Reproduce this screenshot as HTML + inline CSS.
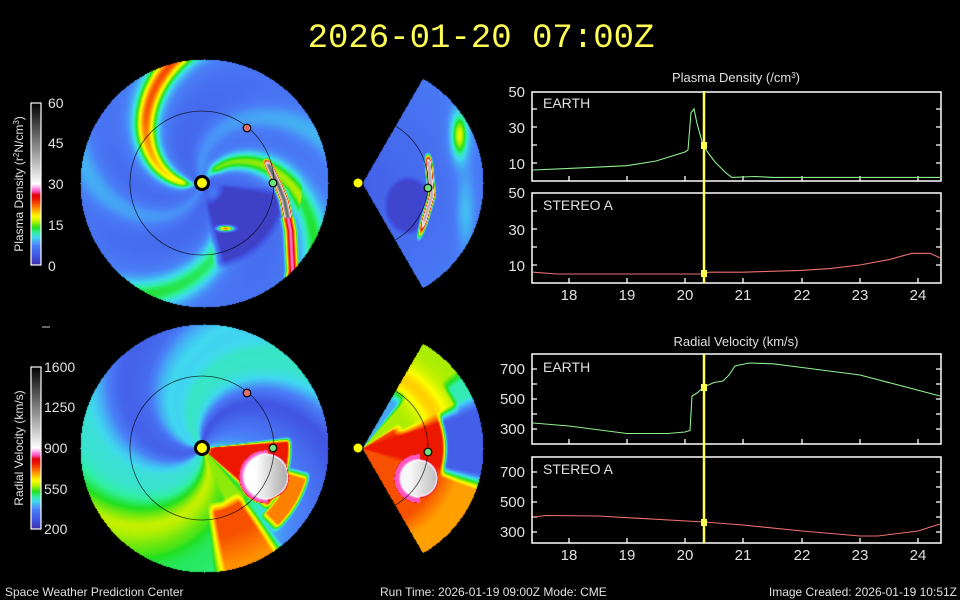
<!DOCTYPE html>
<html><head><meta charset="utf-8"><style>
html,body{margin:0;padding:0;background:#000;width:960px;height:600px;overflow:hidden}
#c{position:absolute;left:0;top:0}
svg{position:absolute;left:0;top:0}
text{font-family:"Liberation Sans",sans-serif;fill:#e0e0e0}
</style></head><body>
<canvas id="c" width="960" height="600"></canvas>
<svg width="960" height="600" viewBox="0 0 960 600">
<defs>
<linearGradient id="cb" x1="0" y1="1" x2="0" y2="0">
<stop offset="0" stop-color="#3c2fa8"/><stop offset="0.05" stop-color="#4050e0"/><stop offset="0.12" stop-color="#4a80f8"/>
<stop offset="0.17" stop-color="#40d8f0"/><stop offset="0.2" stop-color="#30f0a0"/><stop offset="0.23" stop-color="#20e020"/>
<stop offset="0.27" stop-color="#c0f000"/><stop offset="0.3" stop-color="#ffff00"/><stop offset="0.35" stop-color="#ff9000"/>
<stop offset="0.4" stop-color="#f02000"/><stop offset="0.43" stop-color="#e00000"/><stop offset="0.46" stop-color="#ff60d0"/>
<stop offset="0.5" stop-color="#ffffff"/><stop offset="1" stop-color="#000000"/>
</linearGradient>
</defs>
<text x="481" y="47" text-anchor="middle" style="font-family:'Liberation Mono',monospace;font-size:34px;fill:#ffff55">2026-01-20 07:00Z</text>

<rect x="31" y="103" width="10" height="162" fill="url(#cb)" stroke="#fff" stroke-width="1.2"/>
<rect x="31" y="367" width="10" height="162" fill="url(#cb)" stroke="#fff" stroke-width="1.2"/>
<g font-size="14">
<text x="48" y="108">60</text><text x="48" y="148">45</text><text x="48" y="189">30</text><text x="48" y="230">15</text><text x="48" y="271">0</text>
<text x="44" y="372">1600</text><text x="44" y="412">1250</text><text x="44" y="453">900</text><text x="44" y="494">550</text><text x="44" y="534">200</text>
</g>
<text transform="translate(23,184) rotate(-90)" text-anchor="middle" font-size="12">Plasma Density (r<tspan baseline-shift="super" font-size="8">2</tspan>N/cm<tspan baseline-shift="super" font-size="8">3</tspan>)</text>
<text transform="translate(23,448) rotate(-90)" text-anchor="middle" font-size="12">Radial Velocity (km/s)</text>
<line x1="42" y1="327" x2="50" y2="327" stroke="#ccc" stroke-width="1"/>

<g fill="none" stroke="#000" stroke-opacity="0.75" stroke-width="0.8">
<circle cx="202" cy="183" r="72"/><circle cx="202" cy="448" r="72"/>
<path d="M395,125.8 A66,66 0 0 1 395,240.2"/><path d="M395,390.8 A66,66 0 0 1 395,505.2"/>
</g>
<circle cx="202" cy="183" r="6.5" fill="#ff0" stroke="#000" stroke-width="3"/>
<circle cx="202" cy="448" r="6.5" fill="#ff0" stroke="#000" stroke-width="3"/>
<circle cx="358" cy="183" r="5" fill="#ff0" stroke="#000" stroke-width="1"/>
<circle cx="358" cy="448" r="5" fill="#ff0" stroke="#000" stroke-width="1"/>
<g stroke="#000" stroke-width="1.2">
<circle cx="273" cy="183" r="3.8" fill="#70e080"/><circle cx="273" cy="448" r="3.8" fill="#70e080"/>
<circle cx="428" cy="188" r="3.8" fill="#70e080"/><circle cx="428" cy="452" r="3.8" fill="#70e080"/>
<circle cx="247" cy="128" r="3.8" fill="#e07070"/><circle cx="247" cy="393" r="3.8" fill="#e07070"/>
</g>

<text x="736" y="82" text-anchor="middle" font-size="13">Plasma Density (/cm<tspan baseline-shift="super" font-size="8">3</tspan>)</text>
<text x="736" y="346" text-anchor="middle" font-size="13">Radial Velocity (km/s)</text>

<g fill="none" stroke="#fff" stroke-width="1.5">
<rect x="532" y="92" width="409" height="89"/>
<rect x="532" y="193" width="409" height="90"/>
<rect x="532" y="354" width="409" height="90"/>
<rect x="532" y="457" width="409" height="86"/>
</g>
<g stroke="#fff" stroke-width="1.3">
<path d="M532,163h5M532,145h5M532,127h5M532,109h5M941,163h-5M941,145h-5M941,127h-5M941,109h-5"/>
<path d="M532,265h5M532,247h5M532,229h5M532,211h5M941,265h-5M941,247h-5M941,229h-5M941,211h-5"/>
<path d="M532,429h5M532,414h5M532,399h5M532,384h5M532,369h5M941,429h-5M941,414h-5M941,399h-5M941,384h-5M941,369h-5"/>
<path d="M532,532h5M532,517h5M532,502h5M532,487h5M532,472h5M941,532h-5M941,517h-5M941,502h-5M941,487h-5M941,472h-5"/>
<path d="M569,181v-5M627,181v-5M685,181v-5M743,181v-5M802,181v-5M860,181v-5M918,181v-5"/>
<path d="M569,283v-5M627,283v-5M685,283v-5M743,283v-5M802,283v-5M860,283v-5M918,283v-5"/>
<path d="M569,444v-5M627,444v-5M685,444v-5M743,444v-5M802,444v-5M860,444v-5M918,444v-5"/>
<path d="M569,543v-5M627,543v-5M685,543v-5M743,543v-5M802,543v-5M860,543v-5M918,543v-5"/>
</g>
<g font-size="15" text-anchor="end">
<text x="525" y="97">50</text><text x="525" y="133">30</text><text x="525" y="169">10</text>
<text x="525" y="198">50</text><text x="525" y="235">30</text><text x="525" y="271">10</text>
<text x="525" y="374">700</text><text x="525" y="404">500</text><text x="525" y="434">300</text>
<text x="525" y="477">700</text><text x="525" y="507">500</text><text x="525" y="537">300</text>
</g>
<g font-size="15" text-anchor="middle">
<text x="569" y="300">18</text><text x="627" y="300">19</text><text x="685" y="300">20</text><text x="743" y="300">21</text><text x="802" y="300">22</text><text x="860" y="300">23</text><text x="918" y="300">24</text>
<text x="569" y="560">18</text><text x="627" y="560">19</text><text x="685" y="560">20</text><text x="743" y="560">21</text><text x="802" y="560">22</text><text x="860" y="560">23</text><text x="918" y="560">24</text>
</g>
<g font-size="14">
<text x="543" y="108">EARTH</text><text x="543" y="210">STEREO A</text>
<text x="543" y="372">EARTH</text><text x="543" y="474">STEREO A</text>
</g>
<g fill="none" stroke-width="1.1">
<polyline stroke="#90f090" points="533,170 569,168.4 627,165.7 656,161 685,152 688,150 690,125 691,112.6 694,109 697,123.4 703,145 709,154 715,162 720,167 726,173 732,177.4 755,176.5 773,177.4 940,177.4"/>
<polyline stroke="#f07070" points="533,272.2 557,274 703,274 709,272.2 743,272.2 801,270.4 830,268.6 860,265 889,259.6 912,253.3 930,253.3 940,257.8"/>
<polyline stroke="#90f090" points="533,423 569,426 627,433.5 668,433.5 685,432 690,430.5 692,396 697,393 704,387 714,382.5 723,381 729,375 735,366 749,363 773,363.8 802,367.5 860,375 940,396"/>
<polyline stroke="#f07070" points="533,517 546,515.5 598,516 704,522 743,525 802,531 860,536 878,536 918,531 940,524"/>
</g>
<g stroke="#ffff50" stroke-width="2.5">
<line x1="704" y1="91" x2="704" y2="283"/><line x1="704" y1="354" x2="704" y2="543"/>
</g>
<g fill="#ffff50">
<rect x="701" y="142" width="6" height="7"/><rect x="701" y="270" width="6" height="7"/>
<rect x="701" y="384" width="6" height="7"/><rect x="701" y="519" width="6" height="7"/>
</g>
<g font-size="12">
<text x="5" y="596">Space Weather Prediction Center</text>
<text x="380" y="596">Run Time: 2026-01-19 09:00Z  Mode: CME</text>
<text x="957" y="596" text-anchor="end">Image Created: 2026-01-19 10:51Z</text>
</g>
</svg>
<script>
(function(){
var cv=document.getElementById('c'),ctx=cv.getContext('2d');
var im=ctx.createImageData(960,600),D=im.data;
var S=[[0,60,47,168],[0.05,64,80,224],[0.12,74,128,248],[0.17,64,216,240],[0.2,48,240,160],[0.23,32,224,32],[0.27,192,240,0],[0.3,255,255,0],[0.35,255,144,0],[0.4,240,32,0],[0.43,224,0,0],[0.46,255,96,208],[0.5,255,255,255],[1,0,0,0]];
function cm(f){f=Math.max(0,Math.min(1,f));for(var i=1;i<S.length;i++){if(f<=S[i][0]){var a=S[i-1],b=S[i],t=(f-a[0])/(b[0]-a[0]);return [a[1]+(b[1]-a[1])*t,a[2]+(b[2]-a[2])*t,a[3]+(b[3]-a[3])*t];}}return [0,0,0];}
function g(d,w){return Math.exp(-d*d/(w*w));}
function ad(a,b){return ((a-b)%360+540)%360-180;}
function sat(v){return v<0?0:(v>1?1:v);}
var R2D=180/Math.PI;
function interp(tb,x){for(var i=1;i<tb.length;i++){if(x<=tb[i][0]){var a=tb[i-1],b=tb[i];return a[1]+(b[1]-a[1])*(x-a[0])/(b[0]-a[0]);}}return tb[tb.length-1][1];}
function lin(pts,y){if(y<=pts[0][0])return pts[0][1];for(var i=1;i<pts.length;i++){if(y<=pts[i][0]){var a=pts[i-1],b=pts[i];return a[1]+(b[1]-a[1])*(y-a[0])/(b[0]-a[0]);}}return pts[pts.length-1][1];}
var XB=[[160,266],[185,278],[200,284],[230,290],[270,292],[310,286]];
function dD(x,y){var dx=x-202,dy=183-y,r=Math.hypot(dx,dy),th=Math.atan2(dy,dx)*R2D,psi=th+0.7*r;
 var v=4.2+1.8*r/124,w=7+250/(r+12),ramp=Math.min(1,r/20);
 v+=ramp*(8+5*Math.min(1,r/90))*g(ad(psi,191),w);
 v+=ramp*4*g(ad(psi,191),w*2.2);
 v+=ramp*7*g(ad(psi,61),w)*(r<100?1:0.6);
 v+=ramp*3.5*g(ad(psi,61),w*2.2);
 v+=5*g(ad(psi,330),w*1.3)*Math.min(1,r/50);
 v+=2.5*g(ad(psi,330),w*2.5)*Math.min(1,r/50);
 v+=3*g(ad(psi,110),w*1.5)+3*g(ad(psi,255),w*1.5);
 var m=sat((40-Math.abs(ad(th,-42)))/8)*sat((r-15)/8)*sat((88-r)/8);
 v=v*(1-m)+1.6*m;
 if(y>=155&&y<=310){var d=x-lin(XB,y);var pk=y<218?48:28*(y>290?(310-y)/20:1);pk*=sat((y-155)/10);var wd=y<218?4.5:7;v=Math.max(v,pk*g(d,wd));}
 v=Math.max(v,22*Math.exp(-(Math.pow((x-225)/9,2)+Math.pow((y-228)/3,2))));
 return cm(v/60);}
function dW(x,y){var dx=x-362,dy=183-y,r=Math.hypot(dx,dy);
 var v=4.5+2*r/121;
 v+=8*Math.exp(-(Math.pow((x-459)/7,2)+Math.pow((y-135)/20,2)));
 v+=3*Math.exp(-(Math.pow((x-459)/13,2)+Math.pow((y-135)/32,2)));
 v+=3*Math.exp(-(Math.pow((x-465)/10,2)+Math.pow((y-210)/40,2)));
 var e=Math.pow((x-408)/25,2)+Math.pow((y-205)/30,2);var m=sat((1-e)*3);v=v*(1-m)+2*m;
 if(y>=150&&y<=245){var xb=y<195?427+(y-150)*0.1:431.5-(y-195)*0.3;var pk=40*sat((y-150)/12)*sat((245-y)/25);v=Math.max(v,pk*g(x-xb,3.5));}
 return cm(v/60);}
var TB=[[0,470],[30,420],[60,320],[90,300],[115,420],[140,470],[165,440],[190,320],[215,330],[245,430],[275,500],[300,560],[325,555],[345,500],[360,470]];
function vD(x,y){var dx=x-202,dy=448-y,r=Math.hypot(dx,dy),th=Math.atan2(dy,dx)*R2D,psi=((th+0.7*r)%360+360)%360;
 var v=interp(TB,psi)+20*Math.cos(psi*6/R2D);
 var m=sat((8-th)/4)*sat((th+45)/5)*sat((90-r)/5)*sat((r-5)/4);v=v*(1-m)+770*m;
 var mg=sat((-45-th)/5)*sat((th+70)/5)*sat((70-r)/8)*sat((r-8)/4);v=v*(1-mg)+560*mg;
 var m2=sat((-50-th)/6)*sat((th+85)/6)*sat((r-55)/10);v=v*(1-m2)+(730-40*sat((r-90)/30))*m2;
 var m3=sat((-12-th)/5)*sat((th+50)/5)*sat((r-88)/3)*sat((112-r)/5);v=v*(1-m3)+700*m3;
 var db=Math.hypot(x-265,y-476);
 if(x<268)v=Math.max(v,840*sat((30-db)/4));
 var m4=sat((24-db)/3);v=v*(1-m4)+(900+220*sat((x-255)/30))*m4;
 return cm((v-200)/1400);}
function vW(x,y){var dx=x-362,dy=448-y,r=Math.hypot(dx,dy),a=Math.atan2(dy,dx)*R2D;
 var up=570+80*g(r-80,15);var mc=sat((a-48)/5)*sat((70-r)/15);up=up*(1-mc)+400*mc;
 var mo=sat((r-100)/6)*sat((40-a)/6);up=up*(1-mo)+470*mo;
 var mr=sat((45-r)/10)*sat((35-a)/5);up=up*(1-mr)+740*mr;
 var mid=770*(1-sat((r-80)/6))+300*sat((r-80)/6);
 var lo=730-50*sat((r-80)/20);
 var wu=sat((a-18)/8),wl=sat((-12-a)/8),wm=Math.max(0,1-wu-wl);
 var v=wu*up+wm*mid+wl*lo;
 var db=Math.hypot(x-418,y-478);
 if(x<420)v=Math.max(v,840*sat((28-db)/4));
 var m4=sat((20-db)/3);v=v*(1-m4)+(920+180*sat((x-410)/30))*m4;
 return cm((v-200)/1400);}
for(var y=55;y<580;y++){for(var x=76;x<492;x++){var c=null;
 if((x-204)*(x-204)+(y-183)*(y-183)<=124*124)c=dD(x,y);
 else if((x-204)*(x-204)+(y-448)*(y-448)<=124*124)c=vD(x,y);
 else{var dx=x-362,dy=183-y,r=Math.hypot(dx,dy);
  if(dx>0&&r<=121&&Math.abs(Math.atan2(dy,dx)*R2D)<=60)c=dW(x,y);
  else{dy=448-y;r=Math.hypot(dx,dy);if(dx>0&&r<=121&&Math.abs(Math.atan2(dy,dx)*R2D)<=60)c=vW(x,y);}}
 if(c){var i=(y*960+x)*4;D[i]=c[0];D[i+1]=c[1];D[i+2]=c[2];D[i+3]=255;}}}
ctx.putImageData(im,0,0);
})();
</script>
</body></html>
